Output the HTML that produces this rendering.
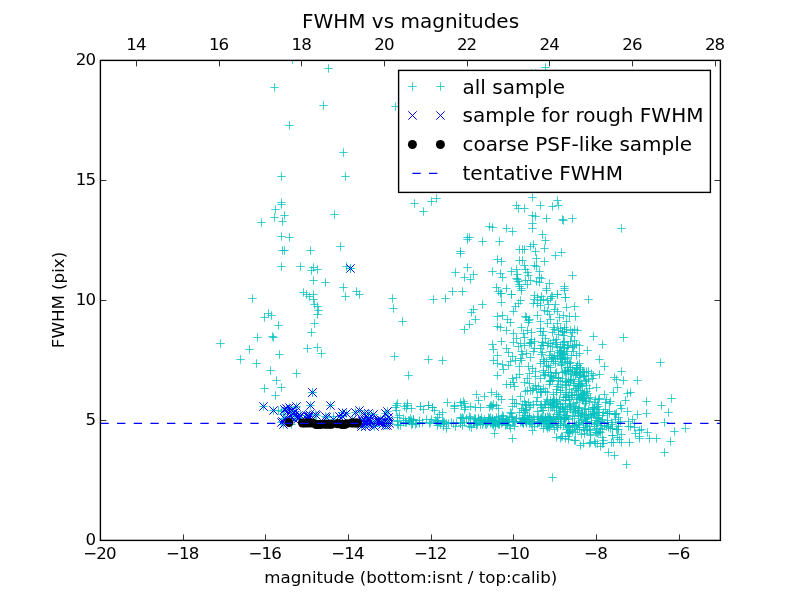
<!DOCTYPE html><html><head><meta charset="utf-8"><title>FWHM vs magnitudes</title><style>html,body{margin:0;padding:0;background:#fff}body{width:800px;height:600px;overflow:hidden}</style></head><body><svg width="800" height="600" viewBox="0 0 800 600" style="display:block;font-family:'DejaVu Sans','Liberation Sans',sans-serif">
<rect width="800" height="600" fill="#fff"/>
<defs><clipPath id="c"><rect x="100.4" y="60.4" width="620.0" height="480.0"/></clipPath></defs>
<g clip-path="url(#c)">
<path d="M288.3 59.5h8.4M292.5 55.3v8.4M324.3 68.5h8.4M328.5 64.3v8.4M270.3 87.5h8.4M274.5 83.3v8.4M319.3 105.5h8.4M323.5 101.3v8.4M285.3 125.5h8.4M289.5 121.3v8.4M339.3 152.5h8.4M343.5 148.3v8.4M277.3 176.5h8.4M281.5 172.3v8.4M341.3 176.5h8.4M345.5 172.3v8.4M277.3 202.5h8.4M281.5 198.3v8.4M277.3 204.5h8.4M281.5 200.3v8.4M271.3 209.5h8.4M275.5 205.3v8.4M280.3 215.5h8.4M284.5 211.3v8.4M270.3 217.5h8.4M274.5 213.3v8.4M278.3 221.5h8.4M282.5 217.3v8.4M257.3 222.5h8.4M261.5 218.3v8.4M330.3 214.5h8.4M334.5 210.3v8.4M277.3 236.5h8.4M281.5 232.3v8.4M285.3 237.5h8.4M289.5 233.3v8.4M278.3 250.5h8.4M282.5 246.3v8.4M280.3 250.5h8.4M284.5 246.3v8.4M306.3 250.5h8.4M310.5 246.3v8.4M336.3 246.5h8.4M340.5 242.3v8.4M277.3 266.5h8.4M281.5 262.3v8.4M296.3 266.5h8.4M300.5 262.3v8.4M309.3 267.5h8.4M313.5 263.3v8.4M307.3 270.5h8.4M311.5 266.3v8.4M313.3 269.5h8.4M317.5 265.3v8.4M342.3 266.5h8.4M346.5 262.3v8.4M346.3 268.5h8.4M350.5 264.3v8.4M309.3 280.5h8.4M313.5 276.3v8.4M321.3 282.5h8.4M325.5 278.3v8.4M339.3 287.5h8.4M343.5 283.3v8.4M352.3 291.5h8.4M356.5 287.3v8.4M299.3 292.5h8.4M303.5 288.3v8.4M302.3 294.5h8.4M306.5 290.3v8.4M309.3 294.5h8.4M313.5 290.3v8.4M305.3 296.5h8.4M309.5 292.3v8.4M341.3 296.5h8.4M345.5 292.3v8.4M248.3 298.5h8.4M252.5 294.3v8.4M355.3 294.5h8.4M359.5 290.3v8.4M309.3 299.5h8.4M313.5 295.3v8.4M310.3 304.5h8.4M314.5 300.3v8.4M313.3 306.5h8.4M317.5 302.3v8.4M314.3 310.5h8.4M318.5 306.3v8.4M313.3 314.5h8.4M317.5 310.3v8.4M264.3 313.5h8.4M268.5 309.3v8.4M267.3 315.5h8.4M271.5 311.3v8.4M260.3 317.5h8.4M264.5 313.3v8.4M274.3 325.5h8.4M278.5 321.3v8.4M310.3 323.5h8.4M314.5 319.3v8.4M307.3 332.5h8.4M311.5 328.3v8.4M253.3 337.5h8.4M257.5 333.3v8.4M268.3 336.5h8.4M272.5 332.3v8.4M269.3 337.5h8.4M273.5 333.3v8.4M216.3 343.5h8.4M220.5 339.3v8.4M245.3 349.5h8.4M249.5 345.3v8.4M303.3 348.5h8.4M307.5 344.3v8.4M313.3 347.5h8.4M317.5 343.3v8.4M317.3 353.5h8.4M321.5 349.3v8.4M275.3 354.5h8.4M279.5 350.3v8.4M236.3 359.5h8.4M240.5 355.3v8.4M252.3 363.5h8.4M256.5 359.3v8.4M266.3 370.5h8.4M270.5 366.3v8.4M292.3 373.5h8.4M296.5 369.3v8.4M272.3 380.5h8.4M276.5 376.3v8.4M260.3 388.5h8.4M264.5 384.3v8.4M277.3 387.5h8.4M281.5 383.3v8.4M271.3 395.5h8.4M275.5 391.3v8.4M391.3 106.5h8.4M395.5 102.3v8.4M541.3 67.5h8.4M545.5 63.3v8.4M527.3 73.5h8.4M531.5 69.3v8.4M531.3 73.5h8.4M535.5 69.3v8.4M410.3 203.5h8.4M414.5 199.3v8.4M419.3 211.5h8.4M423.5 207.3v8.4M427.3 201.5h8.4M431.5 197.3v8.4M432.3 198.5h8.4M436.5 194.3v8.4M512.3 205.5h8.4M516.5 201.3v8.4M514.3 208.5h8.4M518.5 204.3v8.4M485.3 226.5h8.4M489.5 222.3v8.4M488.3 227.5h8.4M492.5 223.3v8.4M502.3 228.5h8.4M506.5 224.3v8.4M508.3 231.5h8.4M512.5 227.3v8.4M463.3 237.5h8.4M467.5 233.3v8.4M465.3 237.5h8.4M469.5 233.3v8.4M463.3 239.5h8.4M467.5 235.3v8.4M478.3 241.5h8.4M482.5 237.3v8.4M495.3 241.5h8.4M499.5 237.3v8.4M456.3 251.5h8.4M460.5 247.3v8.4M456.3 253.5h8.4M460.5 249.3v8.4M515.3 249.5h8.4M519.5 245.3v8.4M493.3 259.5h8.4M497.5 255.3v8.4M497.3 261.5h8.4M501.5 257.3v8.4M515.3 260.5h8.4M519.5 256.3v8.4M463.3 267.5h8.4M467.5 263.3v8.4M451.3 272.5h8.4M455.5 268.3v8.4M469.3 274.5h8.4M473.5 270.3v8.4M460.3 277.5h8.4M464.5 273.3v8.4M466.3 279.5h8.4M470.5 275.3v8.4M488.3 271.5h8.4M492.5 267.3v8.4M496.3 273.5h8.4M500.5 269.3v8.4M498.3 277.5h8.4M502.5 273.3v8.4M507.3 271.5h8.4M511.5 267.3v8.4M512.3 269.5h8.4M516.5 265.3v8.4M513.3 274.5h8.4M517.5 270.3v8.4M512.3 278.5h8.4M516.5 274.3v8.4M514.3 281.5h8.4M518.5 277.3v8.4M515.3 286.5h8.4M519.5 282.3v8.4M448.3 291.5h8.4M452.5 287.3v8.4M458.3 291.5h8.4M462.5 287.3v8.4M492.3 287.5h8.4M496.5 283.3v8.4M502.3 288.5h8.4M506.5 284.3v8.4M494.3 291.5h8.4M498.5 287.3v8.4M496.3 293.5h8.4M500.5 289.3v8.4M507.3 294.5h8.4M511.5 290.3v8.4M388.3 298.5h8.4M392.5 294.3v8.4M429.3 299.5h8.4M433.5 295.3v8.4M441.3 298.5h8.4M445.5 294.3v8.4M389.3 308.5h8.4M393.5 304.3v8.4M398.3 321.5h8.4M402.5 317.3v8.4M478.3 304.5h8.4M482.5 300.3v8.4M469.3 309.5h8.4M473.5 305.3v8.4M467.3 312.5h8.4M471.5 308.3v8.4M471.3 319.5h8.4M475.5 315.3v8.4M465.3 324.5h8.4M469.5 320.3v8.4M460.3 329.5h8.4M464.5 325.3v8.4M390.3 356.5h8.4M394.5 352.3v8.4M424.3 359.5h8.4M428.5 355.3v8.4M438.3 360.5h8.4M442.5 356.3v8.4M404.3 375.5h8.4M408.5 371.3v8.4M493.3 316.5h8.4M497.5 312.3v8.4M493.3 326.5h8.4M497.5 322.3v8.4M488.3 344.5h8.4M492.5 340.3v8.4M489.3 349.5h8.4M493.5 345.3v8.4M504.3 352.5h8.4M508.5 348.3v8.4M493.3 355.5h8.4M497.5 351.3v8.4M508.3 356.5h8.4M512.5 352.3v8.4M489.3 360.5h8.4M493.5 356.3v8.4M493.3 363.5h8.4M497.5 359.3v8.4M498.3 364.5h8.4M502.5 360.3v8.4M506.3 361.5h8.4M510.5 357.3v8.4M511.3 360.5h8.4M515.5 356.3v8.4M499.3 369.5h8.4M503.5 365.3v8.4M504.3 365.5h8.4M508.5 361.3v8.4M515.3 366.5h8.4M519.5 362.3v8.4M493.3 375.5h8.4M497.5 371.3v8.4M508.3 378.5h8.4M512.5 374.3v8.4M512.3 377.5h8.4M516.5 373.3v8.4M515.3 374.5h8.4M519.5 370.3v8.4M502.3 384.5h8.4M506.5 380.3v8.4M506.3 384.5h8.4M510.5 380.3v8.4M509.3 382.5h8.4M513.5 378.3v8.4M510.3 386.5h8.4M514.5 382.3v8.4M472.3 394.5h8.4M476.5 390.3v8.4M480.3 396.5h8.4M484.5 392.3v8.4M487.3 392.5h8.4M491.5 388.3v8.4M492.3 394.5h8.4M496.5 390.3v8.4M494.3 396.5h8.4M498.5 392.3v8.4M497.3 399.5h8.4M501.5 395.3v8.4M508.3 399.5h8.4M512.5 395.3v8.4M510.3 403.5h8.4M514.5 399.3v8.4M392.3 405.5h8.4M396.5 401.3v8.4M403.3 405.5h8.4M407.5 401.3v8.4M416.3 406.5h8.4M420.5 402.3v8.4M424.3 405.5h8.4M428.5 401.3v8.4M428.3 407.5h8.4M432.5 403.3v8.4M450.3 406.5h8.4M454.5 402.3v8.4M466.3 406.5h8.4M470.5 402.3v8.4M471.3 407.5h8.4M475.5 403.3v8.4M476.3 407.5h8.4M480.5 403.3v8.4M488.3 406.5h8.4M492.5 402.3v8.4M492.3 405.5h8.4M496.5 401.3v8.4M494.3 408.5h8.4M498.5 404.3v8.4M508.3 406.5h8.4M512.5 402.3v8.4M393.3 403.5h8.4M397.5 399.3v8.4M391.3 407.5h8.4M395.5 403.3v8.4M392.3 410.5h8.4M396.5 406.3v8.4M403.3 403.5h8.4M407.5 399.3v8.4M400.3 406.5h8.4M404.5 402.3v8.4M402.3 408.5h8.4M406.5 404.3v8.4M407.3 408.5h8.4M411.5 404.3v8.4M416.3 406.5h8.4M420.5 402.3v8.4M419.3 409.5h8.4M423.5 405.3v8.4M424.3 405.5h8.4M428.5 401.3v8.4M428.3 407.5h8.4M432.5 403.3v8.4M430.3 410.5h8.4M434.5 406.3v8.4M443.3 402.5h8.4M447.5 398.3v8.4M450.3 405.5h8.4M454.5 401.3v8.4M450.3 408.5h8.4M454.5 404.3v8.4M438.3 412.5h8.4M442.5 408.3v8.4M435.3 414.5h8.4M439.5 410.3v8.4M395.3 415.5h8.4M399.5 411.3v8.4M399.3 418.5h8.4M403.5 414.3v8.4M442.3 428.5h8.4M446.5 424.3v8.4M451.3 426.5h8.4M455.5 422.3v8.4M528.3 197.5h8.4M532.5 193.3v8.4M553.3 200.5h8.4M557.5 196.3v8.4M520.3 208.5h8.4M524.5 204.3v8.4M536.3 205.5h8.4M540.5 201.3v8.4M548.3 206.5h8.4M552.5 202.3v8.4M554.3 205.5h8.4M558.5 201.3v8.4M528.3 215.5h8.4M532.5 211.3v8.4M531.3 216.5h8.4M535.5 212.3v8.4M542.3 218.5h8.4M546.5 214.3v8.4M558.3 219.5h8.4M562.5 215.3v8.4M559.3 220.5h8.4M563.5 216.3v8.4M568.3 218.5h8.4M572.5 214.3v8.4M528.3 223.5h8.4M532.5 219.3v8.4M528.3 228.5h8.4M532.5 224.3v8.4M617.3 228.5h8.4M621.5 224.3v8.4M538.3 234.5h8.4M542.5 230.3v8.4M541.3 240.5h8.4M545.5 236.3v8.4M529.3 244.5h8.4M533.5 240.3v8.4M526.3 246.5h8.4M530.5 242.3v8.4M540.3 248.5h8.4M544.5 244.3v8.4M518.3 249.5h8.4M522.5 245.3v8.4M520.3 249.5h8.4M524.5 245.3v8.4M531.3 251.5h8.4M535.5 247.3v8.4M557.3 252.5h8.4M561.5 248.3v8.4M551.3 255.5h8.4M555.5 251.3v8.4M532.3 258.5h8.4M536.5 254.3v8.4M518.3 260.5h8.4M522.5 256.3v8.4M540.3 261.5h8.4M544.5 257.3v8.4M520.3 265.5h8.4M524.5 261.3v8.4M530.3 265.5h8.4M534.5 261.3v8.4M532.3 266.5h8.4M536.5 262.3v8.4M521.3 269.5h8.4M525.5 265.3v8.4M535.3 271.5h8.4M539.5 267.3v8.4M523.3 272.5h8.4M527.5 268.3v8.4M524.3 275.5h8.4M528.5 271.3v8.4M568.3 275.5h8.4M572.5 271.3v8.4M535.3 277.5h8.4M539.5 273.3v8.4M537.3 278.5h8.4M541.5 274.3v8.4M513.3 279.5h8.4M517.5 275.3v8.4M521.3 280.5h8.4M525.5 276.3v8.4M526.3 280.5h8.4M530.5 276.3v8.4M532.3 281.5h8.4M536.5 277.3v8.4M535.3 282.5h8.4M539.5 278.3v8.4M545.3 283.5h8.4M549.5 279.3v8.4M515.3 284.5h8.4M519.5 280.3v8.4M523.3 284.5h8.4M527.5 280.3v8.4M560.3 286.5h8.4M564.5 282.3v8.4M560.3 288.5h8.4M564.5 284.3v8.4M517.3 288.5h8.4M521.5 284.3v8.4M542.3 288.5h8.4M546.5 284.3v8.4M553.3 294.5h8.4M557.5 290.3v8.4M530.3 295.5h8.4M534.5 291.3v8.4M537.3 296.5h8.4M541.5 292.3v8.4M547.3 296.5h8.4M551.5 292.3v8.4M561.3 297.5h8.4M565.5 293.3v8.4M584.3 299.5h8.4M588.5 295.3v8.4M497.3 293.5h8.4M501.5 289.3v8.4M507.3 294.5h8.4M511.5 290.3v8.4M517.3 290.5h8.4M521.5 286.3v8.4M542.3 290.5h8.4M546.5 286.3v8.4M548.3 296.5h8.4M552.5 292.3v8.4M553.3 294.5h8.4M557.5 290.3v8.4M561.3 297.5h8.4M565.5 293.3v8.4M560.3 290.5h8.4M564.5 286.3v8.4M497.3 302.5h8.4M501.5 298.3v8.4M516.3 300.5h8.4M520.5 296.3v8.4M514.3 303.5h8.4M518.5 299.3v8.4M511.3 306.5h8.4M515.5 302.3v8.4M509.3 311.5h8.4M513.5 307.3v8.4M530.3 299.5h8.4M534.5 295.3v8.4M533.3 297.5h8.4M537.5 293.3v8.4M536.3 300.5h8.4M540.5 296.3v8.4M539.3 299.5h8.4M543.5 295.3v8.4M543.3 300.5h8.4M547.5 296.3v8.4M546.3 298.5h8.4M550.5 294.3v8.4M529.3 303.5h8.4M533.5 299.3v8.4M533.3 303.5h8.4M537.5 299.3v8.4M536.3 305.5h8.4M540.5 301.3v8.4M544.3 304.5h8.4M548.5 300.3v8.4M551.3 304.5h8.4M555.5 300.3v8.4M562.3 307.5h8.4M566.5 303.3v8.4M570.3 306.5h8.4M574.5 302.3v8.4M540.3 310.5h8.4M544.5 306.3v8.4M543.3 311.5h8.4M547.5 307.3v8.4M550.3 309.5h8.4M554.5 305.3v8.4M553.3 311.5h8.4M557.5 307.3v8.4M498.3 315.5h8.4M502.5 311.3v8.4M503.3 319.5h8.4M507.5 315.3v8.4M506.3 322.5h8.4M510.5 318.3v8.4M521.3 316.5h8.4M525.5 312.3v8.4M525.3 319.5h8.4M529.5 315.3v8.4M524.3 322.5h8.4M528.5 318.3v8.4M533.3 315.5h8.4M537.5 311.3v8.4M536.3 321.5h8.4M540.5 317.3v8.4M545.3 314.5h8.4M549.5 310.3v8.4M546.3 319.5h8.4M550.5 315.3v8.4M543.3 323.5h8.4M547.5 319.3v8.4M559.3 315.5h8.4M563.5 311.3v8.4M555.3 317.5h8.4M559.5 313.3v8.4M565.3 316.5h8.4M569.5 312.3v8.4M571.3 316.5h8.4M575.5 312.3v8.4M562.3 321.5h8.4M566.5 317.3v8.4M553.3 323.5h8.4M557.5 319.3v8.4M502.3 330.5h8.4M506.5 326.3v8.4M496.3 327.5h8.4M500.5 323.3v8.4M509.3 333.5h8.4M513.5 329.3v8.4M517.3 327.5h8.4M521.5 323.3v8.4M519.3 333.5h8.4M523.5 329.3v8.4M523.3 330.5h8.4M527.5 326.3v8.4M527.3 332.5h8.4M531.5 328.3v8.4M536.3 328.5h8.4M540.5 324.3v8.4M539.3 331.5h8.4M543.5 327.3v8.4M550.3 329.5h8.4M554.5 325.3v8.4M556.3 328.5h8.4M560.5 324.3v8.4M560.3 327.5h8.4M564.5 323.3v8.4M558.3 331.5h8.4M562.5 327.3v8.4M562.3 329.5h8.4M566.5 325.3v8.4M570.3 329.5h8.4M574.5 325.3v8.4M548.3 332.5h8.4M552.5 328.3v8.4M554.3 334.5h8.4M558.5 330.3v8.4M559.3 335.5h8.4M563.5 331.3v8.4M538.3 335.5h8.4M542.5 331.3v8.4M541.3 338.5h8.4M545.5 334.3v8.4M497.3 341.5h8.4M501.5 337.3v8.4M509.3 342.5h8.4M513.5 338.3v8.4M512.3 338.5h8.4M516.5 334.3v8.4M516.3 343.5h8.4M520.5 339.3v8.4M514.3 346.5h8.4M518.5 342.3v8.4M502.3 348.5h8.4M506.5 344.3v8.4M527.3 339.5h8.4M531.5 335.3v8.4M530.3 341.5h8.4M534.5 337.3v8.4M538.3 342.5h8.4M542.5 338.3v8.4M543.3 345.5h8.4M547.5 341.3v8.4M548.3 346.5h8.4M552.5 342.3v8.4M552.3 344.5h8.4M556.5 340.3v8.4M556.3 346.5h8.4M560.5 342.3v8.4M559.3 342.5h8.4M563.5 338.3v8.4M563.3 345.5h8.4M567.5 341.3v8.4M566.3 341.5h8.4M570.5 337.3v8.4M570.3 340.5h8.4M574.5 336.3v8.4M572.3 344.5h8.4M576.5 340.3v8.4M560.3 348.5h8.4M564.5 344.3v8.4M536.3 348.5h8.4M540.5 344.3v8.4M589.3 336.5h8.4M593.5 332.3v8.4M619.3 337.5h8.4M623.5 333.3v8.4M598.3 344.5h8.4M602.5 340.3v8.4M595.3 359.5h8.4M599.5 355.3v8.4M600.3 366.5h8.4M604.5 362.3v8.4M617.3 371.5h8.4M621.5 367.3v8.4M656.3 362.5h8.4M660.5 358.3v8.4M610.3 377.5h8.4M614.5 373.3v8.4M612.3 379.5h8.4M616.5 375.3v8.4M619.3 380.5h8.4M623.5 376.3v8.4M633.3 380.5h8.4M637.5 376.3v8.4M613.3 387.5h8.4M617.5 383.3v8.4M626.3 392.5h8.4M630.5 388.3v8.4M623.3 393.5h8.4M627.5 389.3v8.4M642.3 401.5h8.4M646.5 397.3v8.4M621.3 400.5h8.4M625.5 396.3v8.4M616.3 405.5h8.4M620.5 401.3v8.4M595.3 374.5h8.4M599.5 370.3v8.4M667.3 398.5h8.4M671.5 394.3v8.4M657.3 405.5h8.4M661.5 401.3v8.4M664.3 412.5h8.4M668.5 408.3v8.4M642.3 413.5h8.4M646.5 409.3v8.4M633.3 414.5h8.4M637.5 410.3v8.4M623.3 411.5h8.4M627.5 407.3v8.4M617.3 408.5h8.4M621.5 404.3v8.4M660.3 422.5h8.4M664.5 418.3v8.4M681.3 428.5h8.4M685.5 424.3v8.4M670.3 431.5h8.4M674.5 427.3v8.4M643.3 432.5h8.4M647.5 428.3v8.4M635.3 430.5h8.4M639.5 426.3v8.4M635.3 436.5h8.4M639.5 432.3v8.4M645.3 438.5h8.4M649.5 434.3v8.4M652.3 438.5h8.4M656.5 434.3v8.4M666.3 441.5h8.4M670.5 437.3v8.4M625.3 442.5h8.4M629.5 438.3v8.4M660.3 452.5h8.4M664.5 448.3v8.4M604.3 452.5h8.4M608.5 448.3v8.4M610.3 455.5h8.4M614.5 451.3v8.4M622.3 464.5h8.4M626.5 460.3v8.4M617.3 434.5h8.4M621.5 430.3v8.4M615.3 439.5h8.4M619.5 435.3v8.4M617.3 442.5h8.4M621.5 438.3v8.4M628.3 419.5h8.4M632.5 415.3v8.4M630.3 423.5h8.4M634.5 419.3v8.4M626.3 426.5h8.4M630.5 422.3v8.4M637.3 429.5h8.4M641.5 425.3v8.4M548.3 477.5h8.4M552.5 473.3v8.4M508.3 438.5h8.4M512.5 434.3v8.4M490.3 433.5h8.4M494.5 429.3v8.4M552.3 437.5h8.4M556.5 433.3v8.4M561.3 438.5h8.4M565.5 434.3v8.4M576.3 445.5h8.4M580.5 441.3v8.4M596.3 446.5h8.4M600.5 442.3v8.4M522.3 353.5h8.4M526.5 349.3v8.4M529.3 351.5h8.4M533.5 347.3v8.4M526.3 357.5h8.4M530.5 353.3v8.4M517.3 360.5h8.4M521.5 356.3v8.4M516.3 358.5h8.4M520.5 354.3v8.4M517.3 351.5h8.4M521.5 347.3v8.4M524.3 366.5h8.4M528.5 362.3v8.4M518.3 354.5h8.4M522.5 350.3v8.4M528.3 368.5h8.4M532.5 364.3v8.4M547.3 357.5h8.4M551.5 353.3v8.4M555.3 350.5h8.4M559.5 346.3v8.4M553.3 355.5h8.4M557.5 351.3v8.4M538.3 352.5h8.4M542.5 348.3v8.4M542.3 366.5h8.4M546.5 362.3v8.4M539.3 361.5h8.4M543.5 357.3v8.4M548.3 357.5h8.4M552.5 353.3v8.4M546.3 351.5h8.4M550.5 347.3v8.4M537.3 354.5h8.4M541.5 350.3v8.4M549.3 358.5h8.4M553.5 354.3v8.4M542.3 361.5h8.4M546.5 357.3v8.4M545.3 355.5h8.4M549.5 351.3v8.4M551.3 363.5h8.4M555.5 359.3v8.4M540.3 361.5h8.4M544.5 357.3v8.4M546.3 367.5h8.4M550.5 363.3v8.4M550.3 355.5h8.4M554.5 351.3v8.4M555.3 352.5h8.4M559.5 348.3v8.4M544.3 365.5h8.4M548.5 361.3v8.4M539.3 359.5h8.4M543.5 355.3v8.4M536.3 363.5h8.4M540.5 359.3v8.4M551.3 361.5h8.4M555.5 357.3v8.4M553.3 356.5h8.4M557.5 352.3v8.4M549.3 361.5h8.4M553.5 357.3v8.4M547.3 359.5h8.4M551.5 355.3v8.4M572.3 368.5h8.4M576.5 364.3v8.4M565.3 363.5h8.4M569.5 359.3v8.4M557.3 364.5h8.4M561.5 360.3v8.4M568.3 369.5h8.4M572.5 365.3v8.4M572.3 355.5h8.4M576.5 351.3v8.4M563.3 363.5h8.4M567.5 359.3v8.4M556.3 359.5h8.4M560.5 355.3v8.4M559.3 352.5h8.4M563.5 348.3v8.4M557.3 365.5h8.4M561.5 361.3v8.4M558.3 354.5h8.4M562.5 350.3v8.4M563.3 367.5h8.4M567.5 363.3v8.4M557.3 358.5h8.4M561.5 354.3v8.4M566.3 367.5h8.4M570.5 363.3v8.4M572.3 367.5h8.4M576.5 363.3v8.4M561.3 358.5h8.4M565.5 354.3v8.4M563.3 367.5h8.4M567.5 363.3v8.4M575.3 353.5h8.4M579.5 349.3v8.4M559.3 354.5h8.4M563.5 350.3v8.4M560.3 359.5h8.4M564.5 355.3v8.4M567.3 355.5h8.4M571.5 351.3v8.4M556.3 358.5h8.4M560.5 354.3v8.4M563.3 361.5h8.4M567.5 357.3v8.4M575.3 363.5h8.4M579.5 359.3v8.4M566.3 362.5h8.4M570.5 358.3v8.4M569.3 351.5h8.4M573.5 347.3v8.4M573.3 365.5h8.4M577.5 361.3v8.4M573.3 365.5h8.4M577.5 361.3v8.4M563.3 357.5h8.4M567.5 353.3v8.4M558.3 362.5h8.4M562.5 358.3v8.4M557.3 351.5h8.4M561.5 347.3v8.4M560.3 353.5h8.4M564.5 349.3v8.4M562.3 351.5h8.4M566.5 347.3v8.4M556.3 353.5h8.4M560.5 349.3v8.4M558.3 357.5h8.4M562.5 353.3v8.4M576.3 367.5h8.4M580.5 363.3v8.4M576.3 369.5h8.4M580.5 365.3v8.4M583.3 350.5h8.4M587.5 346.3v8.4M520.3 382.5h8.4M524.5 378.3v8.4M534.3 386.5h8.4M538.5 382.3v8.4M525.3 383.5h8.4M529.5 379.3v8.4M531.3 371.5h8.4M535.5 367.3v8.4M529.3 388.5h8.4M533.5 384.3v8.4M531.3 385.5h8.4M535.5 381.3v8.4M525.3 373.5h8.4M529.5 369.3v8.4M531.3 376.5h8.4M535.5 372.3v8.4M532.3 389.5h8.4M536.5 385.3v8.4M523.3 378.5h8.4M527.5 374.3v8.4M554.3 384.5h8.4M558.5 380.3v8.4M539.3 372.5h8.4M543.5 368.3v8.4M539.3 388.5h8.4M543.5 384.3v8.4M552.3 372.5h8.4M556.5 368.3v8.4M552.3 389.5h8.4M556.5 385.3v8.4M549.3 377.5h8.4M553.5 373.3v8.4M546.3 372.5h8.4M550.5 368.3v8.4M536.3 389.5h8.4M540.5 385.3v8.4M548.3 380.5h8.4M552.5 376.3v8.4M554.3 378.5h8.4M558.5 374.3v8.4M553.3 386.5h8.4M557.5 382.3v8.4M540.3 375.5h8.4M544.5 371.3v8.4M541.3 374.5h8.4M545.5 370.3v8.4M547.3 375.5h8.4M551.5 371.3v8.4M544.3 372.5h8.4M548.5 368.3v8.4M554.3 377.5h8.4M558.5 373.3v8.4M545.3 381.5h8.4M549.5 377.3v8.4M554.3 378.5h8.4M558.5 374.3v8.4M554.3 380.5h8.4M558.5 376.3v8.4M546.3 380.5h8.4M550.5 376.3v8.4M536.3 378.5h8.4M540.5 374.3v8.4M539.3 370.5h8.4M543.5 366.3v8.4M551.3 373.5h8.4M555.5 369.3v8.4M545.3 384.5h8.4M549.5 380.3v8.4M547.3 376.5h8.4M551.5 372.3v8.4M546.3 381.5h8.4M550.5 377.3v8.4M571.3 372.5h8.4M575.5 368.3v8.4M567.3 374.5h8.4M571.5 370.3v8.4M561.3 385.5h8.4M565.5 381.3v8.4M566.3 381.5h8.4M570.5 377.3v8.4M571.3 388.5h8.4M575.5 384.3v8.4M564.3 382.5h8.4M568.5 378.3v8.4M566.3 380.5h8.4M570.5 376.3v8.4M569.3 379.5h8.4M573.5 375.3v8.4M566.3 379.5h8.4M570.5 375.3v8.4M574.3 383.5h8.4M578.5 379.3v8.4M573.3 388.5h8.4M577.5 384.3v8.4M561.3 381.5h8.4M565.5 377.3v8.4M574.3 386.5h8.4M578.5 382.3v8.4M558.3 372.5h8.4M562.5 368.3v8.4M564.3 371.5h8.4M568.5 367.3v8.4M560.3 371.5h8.4M564.5 367.3v8.4M569.3 385.5h8.4M573.5 381.3v8.4M573.3 373.5h8.4M577.5 369.3v8.4M570.3 383.5h8.4M574.5 379.3v8.4M558.3 387.5h8.4M562.5 383.3v8.4M575.3 374.5h8.4M579.5 370.3v8.4M575.3 377.5h8.4M579.5 373.3v8.4M565.3 389.5h8.4M569.5 385.3v8.4M572.3 373.5h8.4M576.5 369.3v8.4M564.3 380.5h8.4M568.5 376.3v8.4M562.3 373.5h8.4M566.5 369.3v8.4M562.3 384.5h8.4M566.5 380.3v8.4M556.3 381.5h8.4M560.5 377.3v8.4M564.3 370.5h8.4M568.5 366.3v8.4M562.3 382.5h8.4M566.5 378.3v8.4M566.3 371.5h8.4M570.5 367.3v8.4M575.3 385.5h8.4M579.5 381.3v8.4M575.3 372.5h8.4M579.5 368.3v8.4M561.3 370.5h8.4M565.5 366.3v8.4M571.3 375.5h8.4M575.5 371.3v8.4M558.3 378.5h8.4M562.5 374.3v8.4M574.3 386.5h8.4M578.5 382.3v8.4M561.3 372.5h8.4M565.5 368.3v8.4M574.3 381.5h8.4M578.5 377.3v8.4M570.3 371.5h8.4M574.5 367.3v8.4M577.3 383.5h8.4M581.5 379.3v8.4M584.3 371.5h8.4M588.5 367.3v8.4M582.3 381.5h8.4M586.5 377.3v8.4M580.3 372.5h8.4M584.5 368.3v8.4M579.3 371.5h8.4M583.5 367.3v8.4M580.3 376.5h8.4M584.5 372.3v8.4M582.3 385.5h8.4M586.5 381.3v8.4M581.3 380.5h8.4M585.5 376.3v8.4M579.3 376.5h8.4M583.5 372.3v8.4M576.3 375.5h8.4M580.5 371.3v8.4M576.3 384.5h8.4M580.5 380.3v8.4M587.3 373.5h8.4M591.5 369.3v8.4M585.3 388.5h8.4M589.5 384.3v8.4M578.3 386.5h8.4M582.5 382.3v8.4M584.3 379.5h8.4M588.5 375.3v8.4M588.3 378.5h8.4M592.5 374.3v8.4M582.3 371.5h8.4M586.5 367.3v8.4M578.3 371.5h8.4M582.5 367.3v8.4M592.3 387.5h8.4M596.5 383.3v8.4M589.3 375.5h8.4M593.5 371.3v8.4M580.3 375.5h8.4M584.5 371.3v8.4M526.3 390.5h8.4M530.5 386.3v8.4M521.3 391.5h8.4M525.5 387.3v8.4M523.3 390.5h8.4M527.5 386.3v8.4M516.3 396.5h8.4M520.5 392.3v8.4M520.3 401.5h8.4M524.5 397.3v8.4M526.3 405.5h8.4M530.5 401.3v8.4M529.3 404.5h8.4M533.5 400.3v8.4M533.3 397.5h8.4M537.5 393.3v8.4M522.3 409.5h8.4M526.5 405.3v8.4M518.3 404.5h8.4M522.5 400.3v8.4M528.3 390.5h8.4M532.5 386.3v8.4M552.3 407.5h8.4M556.5 403.3v8.4M548.3 404.5h8.4M552.5 400.3v8.4M552.3 392.5h8.4M556.5 388.3v8.4M546.3 400.5h8.4M550.5 396.3v8.4M552.3 406.5h8.4M556.5 402.3v8.4M552.3 401.5h8.4M556.5 397.3v8.4M553.3 403.5h8.4M557.5 399.3v8.4M549.3 394.5h8.4M553.5 390.3v8.4M536.3 392.5h8.4M540.5 388.3v8.4M543.3 392.5h8.4M547.5 388.3v8.4M552.3 401.5h8.4M556.5 397.3v8.4M548.3 402.5h8.4M552.5 398.3v8.4M549.3 399.5h8.4M553.5 395.3v8.4M536.3 405.5h8.4M540.5 401.3v8.4M550.3 400.5h8.4M554.5 396.3v8.4M546.3 403.5h8.4M550.5 399.3v8.4M537.3 404.5h8.4M541.5 400.3v8.4M541.3 391.5h8.4M545.5 387.3v8.4M541.3 404.5h8.4M545.5 400.3v8.4M540.3 404.5h8.4M544.5 400.3v8.4M555.3 399.5h8.4M559.5 395.3v8.4M543.3 399.5h8.4M547.5 395.3v8.4M549.3 405.5h8.4M553.5 401.3v8.4M548.3 402.5h8.4M552.5 398.3v8.4M537.3 392.5h8.4M541.5 388.3v8.4M541.3 404.5h8.4M545.5 400.3v8.4M542.3 401.5h8.4M546.5 397.3v8.4M536.3 391.5h8.4M540.5 387.3v8.4M561.3 403.5h8.4M565.5 399.3v8.4M569.3 403.5h8.4M573.5 399.3v8.4M561.3 400.5h8.4M565.5 396.3v8.4M565.3 399.5h8.4M569.5 395.3v8.4M558.3 407.5h8.4M562.5 403.3v8.4M559.3 409.5h8.4M563.5 405.3v8.4M574.3 390.5h8.4M578.5 386.3v8.4M565.3 406.5h8.4M569.5 402.3v8.4M575.3 398.5h8.4M579.5 394.3v8.4M561.3 394.5h8.4M565.5 390.3v8.4M574.3 394.5h8.4M578.5 390.3v8.4M567.3 392.5h8.4M571.5 388.3v8.4M566.3 409.5h8.4M570.5 405.3v8.4M558.3 406.5h8.4M562.5 402.3v8.4M566.3 407.5h8.4M570.5 403.3v8.4M570.3 394.5h8.4M574.5 390.3v8.4M573.3 399.5h8.4M577.5 395.3v8.4M556.3 390.5h8.4M560.5 386.3v8.4M565.3 399.5h8.4M569.5 395.3v8.4M562.3 392.5h8.4M566.5 388.3v8.4M562.3 396.5h8.4M566.5 392.3v8.4M572.3 390.5h8.4M576.5 386.3v8.4M571.3 406.5h8.4M575.5 402.3v8.4M558.3 408.5h8.4M562.5 404.3v8.4M570.3 408.5h8.4M574.5 404.3v8.4M561.3 397.5h8.4M565.5 393.3v8.4M563.3 409.5h8.4M567.5 405.3v8.4M567.3 397.5h8.4M571.5 393.3v8.4M564.3 395.5h8.4M568.5 391.3v8.4M556.3 392.5h8.4M560.5 388.3v8.4M572.3 395.5h8.4M576.5 391.3v8.4M574.3 394.5h8.4M578.5 390.3v8.4M561.3 400.5h8.4M565.5 396.3v8.4M559.3 397.5h8.4M563.5 393.3v8.4M575.3 407.5h8.4M579.5 403.3v8.4M572.3 402.5h8.4M576.5 398.3v8.4M574.3 408.5h8.4M578.5 404.3v8.4M566.3 404.5h8.4M570.5 400.3v8.4M556.3 404.5h8.4M560.5 400.3v8.4M565.3 405.5h8.4M569.5 401.3v8.4M568.3 395.5h8.4M572.5 391.3v8.4M556.3 408.5h8.4M560.5 404.3v8.4M578.3 399.5h8.4M582.5 395.3v8.4M582.3 395.5h8.4M586.5 391.3v8.4M590.3 409.5h8.4M594.5 405.3v8.4M581.3 403.5h8.4M585.5 399.3v8.4M582.3 401.5h8.4M586.5 397.3v8.4M583.3 393.5h8.4M587.5 389.3v8.4M579.3 394.5h8.4M583.5 390.3v8.4M594.3 399.5h8.4M598.5 395.3v8.4M580.3 408.5h8.4M584.5 404.3v8.4M595.3 398.5h8.4M599.5 394.3v8.4M578.3 393.5h8.4M582.5 389.3v8.4M577.3 396.5h8.4M581.5 392.3v8.4M577.3 394.5h8.4M581.5 390.3v8.4M581.3 401.5h8.4M585.5 397.3v8.4M593.3 404.5h8.4M597.5 400.3v8.4M584.3 398.5h8.4M588.5 394.3v8.4M586.3 397.5h8.4M590.5 393.3v8.4M582.3 391.5h8.4M586.5 387.3v8.4M581.3 409.5h8.4M585.5 405.3v8.4M578.3 400.5h8.4M582.5 396.3v8.4M588.3 407.5h8.4M592.5 403.3v8.4M580.3 395.5h8.4M584.5 391.3v8.4M580.3 397.5h8.4M584.5 393.3v8.4M584.3 409.5h8.4M588.5 405.3v8.4M592.3 407.5h8.4M596.5 403.3v8.4M576.3 390.5h8.4M580.5 386.3v8.4M590.3 407.5h8.4M594.5 403.3v8.4M585.3 401.5h8.4M589.5 397.3v8.4M576.3 397.5h8.4M580.5 393.3v8.4M594.3 406.5h8.4M598.5 402.3v8.4M593.3 409.5h8.4M597.5 405.3v8.4M580.3 392.5h8.4M584.5 388.3v8.4M579.3 400.5h8.4M583.5 396.3v8.4M589.3 408.5h8.4M593.5 404.3v8.4M590.3 402.5h8.4M594.5 398.3v8.4M591.3 399.5h8.4M595.5 395.3v8.4M601.3 402.5h8.4M605.5 398.3v8.4M609.3 392.5h8.4M613.5 388.3v8.4M606.3 401.5h8.4M610.5 397.3v8.4M602.3 399.5h8.4M606.5 395.3v8.4M600.3 394.5h8.4M604.5 390.3v8.4M605.3 403.5h8.4M609.5 399.3v8.4M601.3 409.5h8.4M605.5 405.3v8.4M537.3 417.5h8.4M541.5 413.3v8.4M553.3 427.5h8.4M557.5 423.3v8.4M550.3 429.5h8.4M554.5 425.3v8.4M554.3 416.5h8.4M558.5 412.3v8.4M539.3 428.5h8.4M543.5 424.3v8.4M550.3 410.5h8.4M554.5 406.3v8.4M549.3 417.5h8.4M553.5 413.3v8.4M543.3 416.5h8.4M547.5 412.3v8.4M539.3 410.5h8.4M543.5 406.3v8.4M541.3 417.5h8.4M545.5 413.3v8.4M555.3 412.5h8.4M559.5 408.3v8.4M555.3 414.5h8.4M559.5 410.3v8.4M543.3 426.5h8.4M547.5 422.3v8.4M552.3 418.5h8.4M556.5 414.3v8.4M536.3 419.5h8.4M540.5 415.3v8.4M543.3 428.5h8.4M547.5 424.3v8.4M559.3 417.5h8.4M563.5 413.3v8.4M573.3 410.5h8.4M577.5 406.3v8.4M564.3 426.5h8.4M568.5 422.3v8.4M571.3 410.5h8.4M575.5 406.3v8.4M556.3 411.5h8.4M560.5 407.3v8.4M574.3 415.5h8.4M578.5 411.3v8.4M570.3 427.5h8.4M574.5 423.3v8.4M562.3 415.5h8.4M566.5 411.3v8.4M575.3 422.5h8.4M579.5 418.3v8.4M561.3 424.5h8.4M565.5 420.3v8.4M562.3 415.5h8.4M566.5 411.3v8.4M556.3 425.5h8.4M560.5 421.3v8.4M574.3 422.5h8.4M578.5 418.3v8.4M574.3 410.5h8.4M578.5 406.3v8.4M560.3 419.5h8.4M564.5 415.3v8.4M575.3 429.5h8.4M579.5 425.3v8.4M563.3 415.5h8.4M567.5 411.3v8.4M564.3 419.5h8.4M568.5 415.3v8.4M574.3 413.5h8.4M578.5 409.3v8.4M572.3 424.5h8.4M576.5 420.3v8.4M572.3 425.5h8.4M576.5 421.3v8.4M568.3 416.5h8.4M572.5 412.3v8.4M562.3 417.5h8.4M566.5 413.3v8.4M571.3 411.5h8.4M575.5 407.3v8.4M559.3 425.5h8.4M563.5 421.3v8.4M560.3 411.5h8.4M564.5 407.3v8.4M556.3 421.5h8.4M560.5 417.3v8.4M562.3 429.5h8.4M566.5 425.3v8.4M573.3 429.5h8.4M577.5 425.3v8.4M561.3 411.5h8.4M565.5 407.3v8.4M557.3 419.5h8.4M561.5 415.3v8.4M570.3 418.5h8.4M574.5 414.3v8.4M560.3 418.5h8.4M564.5 414.3v8.4M568.3 423.5h8.4M572.5 419.3v8.4M570.3 426.5h8.4M574.5 422.3v8.4M569.3 412.5h8.4M573.5 408.3v8.4M592.3 415.5h8.4M596.5 411.3v8.4M587.3 417.5h8.4M591.5 413.3v8.4M590.3 413.5h8.4M594.5 409.3v8.4M580.3 414.5h8.4M584.5 410.3v8.4M579.3 427.5h8.4M583.5 423.3v8.4M587.3 416.5h8.4M591.5 412.3v8.4M583.3 429.5h8.4M587.5 425.3v8.4M586.3 414.5h8.4M590.5 410.3v8.4M592.3 423.5h8.4M596.5 419.3v8.4M595.3 412.5h8.4M599.5 408.3v8.4M585.3 426.5h8.4M589.5 422.3v8.4M592.3 428.5h8.4M596.5 424.3v8.4M576.3 415.5h8.4M580.5 411.3v8.4M578.3 413.5h8.4M582.5 409.3v8.4M595.3 421.5h8.4M599.5 417.3v8.4M594.3 417.5h8.4M598.5 413.3v8.4M593.3 418.5h8.4M597.5 414.3v8.4M581.3 425.5h8.4M585.5 421.3v8.4M594.3 412.5h8.4M598.5 408.3v8.4M587.3 422.5h8.4M591.5 418.3v8.4M580.3 417.5h8.4M584.5 413.3v8.4M578.3 414.5h8.4M582.5 410.3v8.4M581.3 421.5h8.4M585.5 417.3v8.4M589.3 414.5h8.4M593.5 410.3v8.4M576.3 416.5h8.4M580.5 412.3v8.4M589.3 413.5h8.4M593.5 409.3v8.4M582.3 414.5h8.4M586.5 410.3v8.4M591.3 420.5h8.4M595.5 416.3v8.4M577.3 412.5h8.4M581.5 408.3v8.4M583.3 421.5h8.4M587.5 417.3v8.4M588.3 411.5h8.4M592.5 407.3v8.4M579.3 423.5h8.4M583.5 419.3v8.4M584.3 415.5h8.4M588.5 411.3v8.4M582.3 429.5h8.4M586.5 425.3v8.4M582.3 421.5h8.4M586.5 417.3v8.4M583.3 418.5h8.4M587.5 414.3v8.4M613.3 429.5h8.4M617.5 425.3v8.4M603.3 413.5h8.4M607.5 409.3v8.4M610.3 414.5h8.4M614.5 410.3v8.4M596.3 428.5h8.4M600.5 424.3v8.4M604.3 426.5h8.4M608.5 422.3v8.4M604.3 427.5h8.4M608.5 423.3v8.4M605.3 413.5h8.4M609.5 409.3v8.4M596.3 421.5h8.4M600.5 417.3v8.4M608.3 428.5h8.4M612.5 424.3v8.4M597.3 422.5h8.4M601.5 418.3v8.4M603.3 420.5h8.4M607.5 416.3v8.4M598.3 415.5h8.4M602.5 411.3v8.4M606.3 428.5h8.4M610.5 424.3v8.4M598.3 419.5h8.4M602.5 415.3v8.4M612.3 429.5h8.4M616.5 425.3v8.4M599.3 412.5h8.4M603.5 408.3v8.4M614.3 429.5h8.4M618.5 425.3v8.4M605.3 411.5h8.4M609.5 407.3v8.4M614.3 417.5h8.4M618.5 413.3v8.4M614.3 422.5h8.4M618.5 418.3v8.4M612.3 413.5h8.4M616.5 409.3v8.4M611.3 414.5h8.4M615.5 410.3v8.4M624.3 426.5h8.4M628.5 422.3v8.4M630.3 427.5h8.4M634.5 423.3v8.4M616.3 421.5h8.4M620.5 417.3v8.4M624.3 421.5h8.4M628.5 417.3v8.4M564.3 439.5h8.4M568.5 435.3v8.4M564.3 436.5h8.4M568.5 432.3v8.4M556.3 438.5h8.4M560.5 434.3v8.4M565.3 433.5h8.4M569.5 429.3v8.4M571.3 440.5h8.4M575.5 436.3v8.4M565.3 432.5h8.4M569.5 428.3v8.4M565.3 431.5h8.4M569.5 427.3v8.4M558.3 436.5h8.4M562.5 432.3v8.4M557.3 436.5h8.4M561.5 432.3v8.4M566.3 430.5h8.4M570.5 426.3v8.4M568.3 431.5h8.4M572.5 427.3v8.4M570.3 440.5h8.4M574.5 436.3v8.4M586.3 430.5h8.4M590.5 426.3v8.4M586.3 435.5h8.4M590.5 431.3v8.4M595.3 431.5h8.4M599.5 427.3v8.4M593.3 443.5h8.4M597.5 439.3v8.4M590.3 441.5h8.4M594.5 437.3v8.4M579.3 443.5h8.4M583.5 439.3v8.4M585.3 443.5h8.4M589.5 439.3v8.4M594.3 432.5h8.4M598.5 428.3v8.4M591.3 443.5h8.4M595.5 439.3v8.4M577.3 434.5h8.4M581.5 430.3v8.4M591.3 432.5h8.4M595.5 428.3v8.4M593.3 433.5h8.4M597.5 429.3v8.4M592.3 432.5h8.4M596.5 428.3v8.4M586.3 442.5h8.4M590.5 438.3v8.4M580.3 433.5h8.4M584.5 429.3v8.4M586.3 434.5h8.4M590.5 430.3v8.4M596.3 432.5h8.4M600.5 428.3v8.4M599.3 443.5h8.4M603.5 439.3v8.4M609.3 442.5h8.4M613.5 438.3v8.4M599.3 440.5h8.4M603.5 436.3v8.4M598.3 437.5h8.4M602.5 433.3v8.4M608.3 435.5h8.4M612.5 431.3v8.4M613.3 437.5h8.4M617.5 433.3v8.4M607.3 442.5h8.4M611.5 438.3v8.4M598.3 443.5h8.4M602.5 439.3v8.4M608.3 435.5h8.4M612.5 431.3v8.4M631.3 433.5h8.4M635.5 429.3v8.4M635.3 438.5h8.4M639.5 434.3v8.4M415.3 422.5h8.4M419.5 418.3v8.4M404.3 420.5h8.4M408.5 416.3v8.4M439.3 426.5h8.4M443.5 422.3v8.4M408.3 423.5h8.4M412.5 419.3v8.4M433.3 425.5h8.4M437.5 421.3v8.4M434.3 422.5h8.4M438.5 418.3v8.4M412.3 423.5h8.4M416.5 419.3v8.4M402.3 422.5h8.4M406.5 418.3v8.4M431.3 420.5h8.4M435.5 416.3v8.4M449.3 423.5h8.4M453.5 419.3v8.4M401.3 422.5h8.4M405.5 418.3v8.4M394.3 425.5h8.4M398.5 421.3v8.4M393.3 421.5h8.4M397.5 417.3v8.4M415.3 423.5h8.4M419.5 419.3v8.4M407.3 420.5h8.4M411.5 416.3v8.4M405.3 421.5h8.4M409.5 417.3v8.4M432.3 421.5h8.4M436.5 417.3v8.4M452.3 422.5h8.4M456.5 418.3v8.4M408.3 423.5h8.4M412.5 419.3v8.4M433.3 423.5h8.4M437.5 419.3v8.4M447.3 422.5h8.4M451.5 418.3v8.4M409.3 420.5h8.4M413.5 416.3v8.4M393.3 420.5h8.4M397.5 416.3v8.4M415.3 420.5h8.4M419.5 416.3v8.4M433.3 417.5h8.4M437.5 413.3v8.4M439.3 424.5h8.4M443.5 420.3v8.4M408.3 423.5h8.4M412.5 419.3v8.4M426.3 422.5h8.4M430.5 418.3v8.4M418.3 422.5h8.4M422.5 418.3v8.4M442.3 423.5h8.4M446.5 419.3v8.4M393.3 417.5h8.4M397.5 413.3v8.4M401.3 420.5h8.4M405.5 416.3v8.4M405.3 420.5h8.4M409.5 416.3v8.4M433.3 420.5h8.4M437.5 416.3v8.4M444.3 423.5h8.4M448.5 419.3v8.4M411.3 424.5h8.4M415.5 420.3v8.4M396.3 425.5h8.4M400.5 421.3v8.4M438.3 420.5h8.4M442.5 416.3v8.4M393.3 424.5h8.4M397.5 420.3v8.4M422.3 419.5h8.4M426.5 415.3v8.4M439.3 421.5h8.4M443.5 417.3v8.4M399.3 422.5h8.4M403.5 418.3v8.4M407.3 424.5h8.4M411.5 420.3v8.4M440.3 422.5h8.4M444.5 418.3v8.4M436.3 424.5h8.4M440.5 420.3v8.4M409.3 419.5h8.4M413.5 415.3v8.4M427.3 419.5h8.4M431.5 415.3v8.4M425.3 423.5h8.4M429.5 419.3v8.4M409.3 419.5h8.4M413.5 415.3v8.4M406.3 418.5h8.4M410.5 414.3v8.4M544.3 424.5h8.4M548.5 420.3v8.4M479.3 421.5h8.4M483.5 417.3v8.4M530.3 426.5h8.4M534.5 422.3v8.4M488.3 419.5h8.4M492.5 415.3v8.4M544.3 420.5h8.4M548.5 416.3v8.4M546.3 423.5h8.4M550.5 419.3v8.4M519.3 419.5h8.4M523.5 415.3v8.4M553.3 416.5h8.4M557.5 412.3v8.4M502.3 424.5h8.4M506.5 420.3v8.4M541.3 417.5h8.4M545.5 413.3v8.4M499.3 420.5h8.4M503.5 416.3v8.4M486.3 417.5h8.4M490.5 413.3v8.4M477.3 420.5h8.4M481.5 416.3v8.4M547.3 420.5h8.4M551.5 416.3v8.4M470.3 423.5h8.4M474.5 419.3v8.4M548.3 421.5h8.4M552.5 417.3v8.4M490.3 422.5h8.4M494.5 418.3v8.4M460.3 422.5h8.4M464.5 418.3v8.4M525.3 417.5h8.4M529.5 413.3v8.4M529.3 417.5h8.4M533.5 413.3v8.4M462.3 418.5h8.4M466.5 414.3v8.4M537.3 419.5h8.4M541.5 415.3v8.4M537.3 422.5h8.4M541.5 418.3v8.4M542.3 420.5h8.4M546.5 416.3v8.4M547.3 423.5h8.4M551.5 419.3v8.4M476.3 420.5h8.4M480.5 416.3v8.4M467.3 427.5h8.4M471.5 423.3v8.4M537.3 422.5h8.4M541.5 418.3v8.4M519.3 423.5h8.4M523.5 419.3v8.4M484.3 417.5h8.4M488.5 413.3v8.4M465.3 426.5h8.4M469.5 422.3v8.4M476.3 424.5h8.4M480.5 420.3v8.4M487.3 420.5h8.4M491.5 416.3v8.4M481.3 421.5h8.4M485.5 417.3v8.4M484.3 420.5h8.4M488.5 416.3v8.4M488.3 418.5h8.4M492.5 414.3v8.4M552.3 414.5h8.4M556.5 410.3v8.4M517.3 421.5h8.4M521.5 417.3v8.4M459.3 418.5h8.4M463.5 414.3v8.4M533.3 423.5h8.4M537.5 419.3v8.4M490.3 420.5h8.4M494.5 416.3v8.4M477.3 417.5h8.4M481.5 413.3v8.4M542.3 426.5h8.4M546.5 422.3v8.4M473.3 424.5h8.4M477.5 420.3v8.4M456.3 423.5h8.4M460.5 419.3v8.4M553.3 427.5h8.4M557.5 423.3v8.4M456.3 417.5h8.4M460.5 413.3v8.4M535.3 421.5h8.4M539.5 417.3v8.4M474.3 418.5h8.4M478.5 414.3v8.4M539.3 421.5h8.4M543.5 417.3v8.4M482.3 424.5h8.4M486.5 420.3v8.4M477.3 420.5h8.4M481.5 416.3v8.4M525.3 419.5h8.4M529.5 415.3v8.4M519.3 421.5h8.4M523.5 417.3v8.4M464.3 422.5h8.4M468.5 418.3v8.4M534.3 416.5h8.4M538.5 412.3v8.4M518.3 419.5h8.4M522.5 415.3v8.4M495.3 424.5h8.4M499.5 420.3v8.4M545.3 427.5h8.4M549.5 423.3v8.4M458.3 425.5h8.4M462.5 421.3v8.4M476.3 420.5h8.4M480.5 416.3v8.4M506.3 428.5h8.4M510.5 424.3v8.4M493.3 423.5h8.4M497.5 419.3v8.4M502.3 419.5h8.4M506.5 415.3v8.4M509.3 421.5h8.4M513.5 417.3v8.4M520.3 415.5h8.4M524.5 411.3v8.4M490.3 420.5h8.4M494.5 416.3v8.4M540.3 423.5h8.4M544.5 419.3v8.4M522.3 421.5h8.4M526.5 417.3v8.4M499.3 419.5h8.4M503.5 415.3v8.4M533.3 419.5h8.4M537.5 415.3v8.4M502.3 420.5h8.4M506.5 416.3v8.4M544.3 421.5h8.4M548.5 417.3v8.4M486.3 423.5h8.4M490.5 419.3v8.4M526.3 422.5h8.4M530.5 418.3v8.4M471.3 419.5h8.4M475.5 415.3v8.4M480.3 419.5h8.4M484.5 415.3v8.4M472.3 425.5h8.4M476.5 421.3v8.4M488.3 424.5h8.4M492.5 420.3v8.4M528.3 430.5h8.4M532.5 426.3v8.4M466.3 423.5h8.4M470.5 419.3v8.4M494.3 421.5h8.4M498.5 417.3v8.4M554.3 423.5h8.4M558.5 419.3v8.4M499.3 416.5h8.4M503.5 412.3v8.4M475.3 420.5h8.4M479.5 416.3v8.4M476.3 420.5h8.4M480.5 416.3v8.4M494.3 424.5h8.4M498.5 420.3v8.4M535.3 422.5h8.4M539.5 418.3v8.4M525.3 416.5h8.4M529.5 412.3v8.4M502.3 421.5h8.4M506.5 417.3v8.4M470.3 418.5h8.4M474.5 414.3v8.4M530.3 419.5h8.4M534.5 415.3v8.4M546.3 417.5h8.4M550.5 413.3v8.4M530.3 423.5h8.4M534.5 419.3v8.4M498.3 422.5h8.4M502.5 418.3v8.4M544.3 426.5h8.4M548.5 422.3v8.4M533.3 419.5h8.4M537.5 415.3v8.4M523.3 415.5h8.4M527.5 411.3v8.4M520.3 418.5h8.4M524.5 414.3v8.4M518.3 422.5h8.4M522.5 418.3v8.4M465.3 416.5h8.4M469.5 412.3v8.4M527.3 424.5h8.4M531.5 420.3v8.4M518.3 421.5h8.4M522.5 417.3v8.4M501.3 425.5h8.4M505.5 421.3v8.4M518.3 417.5h8.4M522.5 413.3v8.4M549.3 424.5h8.4M553.5 420.3v8.4M474.3 418.5h8.4M478.5 414.3v8.4M494.3 416.5h8.4M498.5 412.3v8.4M504.3 422.5h8.4M508.5 418.3v8.4M510.3 421.5h8.4M514.5 417.3v8.4M472.3 423.5h8.4M476.5 419.3v8.4M507.3 413.5h8.4M511.5 409.3v8.4M466.3 417.5h8.4M470.5 413.3v8.4M527.3 419.5h8.4M531.5 415.3v8.4M507.3 417.5h8.4M511.5 413.3v8.4M508.3 416.5h8.4M512.5 412.3v8.4M497.3 423.5h8.4M501.5 419.3v8.4M524.3 420.5h8.4M528.5 416.3v8.4M495.3 421.5h8.4M499.5 417.3v8.4M554.3 419.5h8.4M558.5 415.3v8.4M491.3 424.5h8.4M495.5 420.3v8.4M495.3 422.5h8.4M499.5 418.3v8.4M457.3 418.5h8.4M461.5 414.3v8.4M525.3 423.5h8.4M529.5 419.3v8.4M491.3 421.5h8.4M495.5 417.3v8.4M530.3 423.5h8.4M534.5 419.3v8.4M549.3 419.5h8.4M553.5 415.3v8.4M536.3 421.5h8.4M540.5 417.3v8.4M495.3 421.5h8.4M499.5 417.3v8.4M533.3 423.5h8.4M537.5 419.3v8.4M536.3 418.5h8.4M540.5 414.3v8.4M512.3 418.5h8.4M516.5 414.3v8.4M478.3 424.5h8.4M482.5 420.3v8.4M519.3 420.5h8.4M523.5 416.3v8.4M537.3 423.5h8.4M541.5 419.3v8.4M485.3 418.5h8.4M489.5 414.3v8.4M510.3 426.5h8.4M514.5 422.3v8.4M491.3 426.5h8.4M495.5 422.3v8.4M541.3 421.5h8.4M545.5 417.3v8.4M481.3 424.5h8.4M485.5 420.3v8.4M498.3 421.5h8.4M502.5 417.3v8.4M528.3 421.5h8.4M532.5 417.3v8.4M484.3 421.5h8.4M488.5 417.3v8.4M503.3 424.5h8.4M507.5 420.3v8.4M498.3 418.5h8.4M502.5 414.3v8.4M492.3 417.5h8.4M496.5 413.3v8.4M548.3 422.5h8.4M552.5 418.3v8.4M538.3 420.5h8.4M542.5 416.3v8.4M546.3 421.5h8.4M550.5 417.3v8.4M539.3 419.5h8.4M543.5 415.3v8.4M519.3 422.5h8.4M523.5 418.3v8.4M551.3 421.5h8.4M555.5 417.3v8.4M521.3 421.5h8.4M525.5 417.3v8.4M470.3 423.5h8.4M474.5 419.3v8.4M479.3 422.5h8.4M483.5 418.3v8.4M471.3 418.5h8.4M475.5 414.3v8.4M546.3 422.5h8.4M550.5 418.3v8.4M545.3 419.5h8.4M549.5 415.3v8.4M516.3 422.5h8.4M520.5 418.3v8.4M545.3 416.5h8.4M549.5 412.3v8.4M534.3 422.5h8.4M538.5 418.3v8.4M525.3 419.5h8.4M529.5 415.3v8.4M509.3 421.5h8.4M513.5 417.3v8.4M544.3 417.5h8.4M548.5 413.3v8.4M511.3 421.5h8.4M515.5 417.3v8.4M469.3 423.5h8.4M473.5 419.3v8.4M505.3 425.5h8.4M509.5 421.3v8.4M470.3 422.5h8.4M474.5 418.3v8.4M505.3 417.5h8.4M509.5 413.3v8.4M542.3 421.5h8.4M546.5 417.3v8.4M456.3 423.5h8.4M460.5 419.3v8.4M512.3 418.5h8.4M516.5 414.3v8.4M522.3 423.5h8.4M526.5 419.3v8.4M497.3 418.5h8.4M501.5 414.3v8.4M552.3 425.5h8.4M556.5 421.3v8.4M519.3 423.5h8.4M523.5 419.3v8.4M458.3 417.5h8.4M462.5 413.3v8.4M549.3 418.5h8.4M553.5 414.3v8.4M489.3 425.5h8.4M493.5 421.3v8.4M504.3 421.5h8.4M508.5 417.3v8.4M545.3 426.5h8.4M549.5 422.3v8.4M518.3 422.5h8.4M522.5 418.3v8.4M489.3 423.5h8.4M493.5 419.3v8.4M503.3 419.5h8.4M507.5 415.3v8.4M508.3 421.5h8.4M512.5 417.3v8.4M499.3 419.5h8.4M503.5 415.3v8.4M498.3 415.5h8.4M502.5 411.3v8.4M485.3 419.5h8.4M489.5 415.3v8.4M538.3 418.5h8.4M542.5 414.3v8.4M483.3 423.5h8.4M487.5 419.3v8.4M506.3 412.5h8.4M510.5 408.3v8.4M521.3 410.5h8.4M525.5 406.3v8.4M489.3 404.5h8.4M493.5 400.3v8.4M485.3 407.5h8.4M489.5 403.3v8.4M519.3 410.5h8.4M523.5 406.3v8.4M460.3 409.5h8.4M464.5 405.3v8.4M544.3 407.5h8.4M548.5 403.3v8.4M460.3 403.5h8.4M464.5 399.3v8.4M456.3 402.5h8.4M460.5 398.3v8.4M548.3 407.5h8.4M552.5 403.3v8.4M521.3 410.5h8.4M525.5 406.3v8.4M546.3 407.5h8.4M550.5 403.3v8.4M517.3 408.5h8.4M521.5 404.3v8.4M525.3 407.5h8.4M529.5 403.3v8.4M524.3 402.5h8.4M528.5 398.3v8.4M522.3 405.5h8.4M526.5 401.3v8.4M532.3 401.5h8.4M536.5 397.3v8.4M474.3 400.5h8.4M478.5 396.3v8.4M533.3 411.5h8.4M537.5 407.3v8.4M521.3 404.5h8.4M525.5 400.3v8.4M538.3 410.5h8.4M542.5 406.3v8.4M512.3 403.5h8.4M516.5 399.3v8.4M486.3 405.5h8.4M490.5 401.3v8.4M487.3 405.5h8.4M491.5 401.3v8.4M520.3 412.5h8.4M524.5 408.3v8.4M461.3 407.5h8.4M465.5 403.3v8.4M459.3 401.5h8.4M463.5 397.3v8.4M537.3 407.5h8.4M541.5 403.3v8.4M547.3 405.5h8.4M551.5 401.3v8.4M457.3 405.5h8.4M461.5 401.3v8.4M515.3 412.5h8.4M519.5 408.3v8.4M554.3 406.5h8.4M558.5 402.3v8.4M580.3 430.5h8.4M584.5 426.3v8.4M568.3 429.5h8.4M572.5 425.3v8.4M565.3 425.5h8.4M569.5 421.3v8.4M597.3 425.5h8.4M601.5 421.3v8.4M563.3 427.5h8.4M567.5 423.3v8.4M608.3 424.5h8.4M612.5 420.3v8.4M563.3 432.5h8.4M567.5 428.3v8.4M570.3 425.5h8.4M574.5 421.3v8.4M600.3 425.5h8.4M604.5 421.3v8.4M602.3 426.5h8.4M606.5 422.3v8.4M598.3 429.5h8.4M602.5 425.3v8.4M561.3 418.5h8.4M565.5 414.3v8.4M593.3 423.5h8.4M597.5 419.3v8.4M611.3 419.5h8.4M615.5 415.3v8.4M571.3 432.5h8.4M575.5 428.3v8.4M556.3 423.5h8.4M560.5 419.3v8.4M556.3 419.5h8.4M560.5 415.3v8.4M560.3 417.5h8.4M564.5 413.3v8.4M574.3 424.5h8.4M578.5 420.3v8.4M607.3 422.5h8.4M611.5 418.3v8.4M585.3 429.5h8.4M589.5 425.3v8.4M590.3 426.5h8.4M594.5 422.3v8.4M582.3 423.5h8.4M586.5 419.3v8.4M603.3 422.5h8.4M607.5 418.3v8.4M577.3 420.5h8.4M581.5 416.3v8.4M581.3 419.5h8.4M585.5 415.3v8.4M579.3 427.5h8.4M583.5 423.3v8.4M603.3 413.5h8.4M607.5 409.3v8.4M590.3 424.5h8.4M594.5 420.3v8.4M614.3 426.5h8.4M618.5 422.3v8.4M564.3 345.5h8.4M568.5 341.3v8.4M549.3 340.5h8.4M553.5 336.3v8.4M575.3 345.5h8.4M579.5 341.3v8.4M560.3 332.5h8.4M564.5 328.3v8.4M553.3 347.5h8.4M557.5 343.3v8.4M551.3 342.5h8.4M555.5 338.3v8.4M560.3 347.5h8.4M564.5 343.3v8.4M568.3 332.5h8.4M572.5 328.3v8.4M536.3 331.5h8.4M540.5 327.3v8.4M552.3 339.5h8.4M556.5 335.3v8.4M568.3 347.5h8.4M572.5 343.3v8.4M537.3 345.5h8.4M541.5 341.3v8.4M568.3 346.5h8.4M572.5 342.3v8.4M558.3 331.5h8.4M562.5 327.3v8.4M570.3 345.5h8.4M574.5 341.3v8.4M563.3 347.5h8.4M567.5 343.3v8.4M549.3 327.5h8.4M553.5 323.3v8.4M558.3 344.5h8.4M562.5 340.3v8.4M544.3 343.5h8.4M548.5 339.3v8.4M573.3 330.5h8.4M577.5 326.3v8.4M560.3 341.5h8.4M564.5 337.3v8.4M554.3 330.5h8.4M558.5 326.3v8.4M546.3 343.5h8.4M550.5 339.3v8.4M567.3 336.5h8.4M571.5 332.3v8.4M539.3 345.5h8.4M543.5 341.3v8.4M566.3 330.5h8.4M570.5 326.3v8.4M530.3 348.5h8.4M534.5 344.3v8.4M538.3 342.5h8.4M542.5 338.3v8.4M527.3 343.5h8.4M531.5 339.3v8.4M520.3 337.5h8.4M524.5 333.3v8.4M520.3 345.5h8.4M524.5 341.3v8.4M525.3 343.5h8.4M529.5 339.3v8.4M526.3 342.5h8.4M530.5 338.3v8.4M522.3 317.5h8.4M526.5 313.3v8.4M524.3 320.5h8.4M528.5 316.3v8.4M346.3 268.5h8.4M350.5 264.3v8.4M308.3 392.5h8.4M312.5 388.3v8.4M308.3 392.5h8.4M312.5 388.3v8.4M259.3 406.5h8.4M263.5 402.3v8.4M269.3 410.5h8.4M273.5 406.3v8.4M282.3 408.5h8.4M286.5 404.3v8.4M285.3 407.5h8.4M289.5 403.3v8.4M287.3 410.5h8.4M291.5 406.3v8.4M292.3 406.5h8.4M296.5 402.3v8.4M306.3 405.5h8.4M310.5 401.3v8.4M326.3 405.5h8.4M330.5 401.3v8.4M278.3 421.5h8.4M282.5 417.3v8.4M277.3 422.5h8.4M281.5 418.3v8.4M290.3 415.5h8.4M294.5 411.3v8.4M293.3 416.5h8.4M297.5 412.3v8.4M296.3 415.5h8.4M300.5 411.3v8.4M302.3 415.5h8.4M306.5 411.3v8.4M305.3 414.5h8.4M309.5 410.3v8.4M312.3 415.5h8.4M316.5 411.3v8.4M311.3 414.5h8.4M315.5 410.3v8.4M322.3 417.5h8.4M326.5 413.3v8.4M338.3 412.5h8.4M342.5 408.3v8.4M342.3 413.5h8.4M346.5 409.3v8.4M351.3 412.5h8.4M355.5 408.3v8.4M355.3 410.5h8.4M359.5 406.3v8.4M360.3 413.5h8.4M364.5 409.3v8.4M364.3 413.5h8.4M368.5 409.3v8.4M369.3 414.5h8.4M373.5 410.3v8.4M383.3 411.5h8.4M387.5 407.3v8.4M381.3 413.5h8.4M385.5 409.3v8.4M361.3 426.5h8.4M365.5 422.3v8.4M367.3 423.5h8.4M371.5 419.3v8.4M360.3 419.5h8.4M364.5 415.3v8.4M361.3 418.5h8.4M365.5 414.3v8.4M374.3 420.5h8.4M378.5 416.3v8.4M357.3 424.5h8.4M361.5 420.3v8.4M357.3 426.5h8.4M361.5 422.3v8.4M371.3 421.5h8.4M375.5 417.3v8.4M373.3 421.5h8.4M377.5 417.3v8.4M369.3 425.5h8.4M373.5 421.3v8.4M384.3 422.5h8.4M388.5 418.3v8.4M384.3 417.5h8.4M388.5 413.3v8.4M364.3 423.5h8.4M368.5 419.3v8.4M362.3 422.5h8.4M366.5 418.3v8.4M359.3 424.5h8.4M363.5 420.3v8.4M382.3 422.5h8.4M386.5 418.3v8.4M370.3 426.5h8.4M374.5 422.3v8.4M358.3 420.5h8.4M362.5 416.3v8.4M374.3 420.5h8.4M378.5 416.3v8.4M384.3 422.5h8.4M388.5 418.3v8.4M364.3 418.5h8.4M368.5 414.3v8.4M384.3 420.5h8.4M388.5 416.3v8.4M376.3 419.5h8.4M380.5 415.3v8.4M361.3 423.5h8.4M365.5 419.3v8.4M385.3 423.5h8.4M389.5 419.3v8.4M358.3 421.5h8.4M362.5 417.3v8.4M364.3 418.5h8.4M368.5 414.3v8.4M383.3 425.5h8.4M387.5 421.3v8.4M381.3 425.5h8.4M385.5 421.3v8.4M377.3 422.5h8.4M381.5 418.3v8.4M375.3 422.5h8.4M379.5 418.3v8.4M361.3 421.5h8.4M365.5 417.3v8.4M378.3 424.5h8.4M382.5 420.3v8.4M365.3 420.5h8.4M369.5 416.3v8.4M329.3 419.5h8.4M333.5 415.3v8.4M295.3 417.5h8.4M299.5 413.3v8.4M305.3 416.5h8.4M309.5 412.3v8.4M321.3 416.5h8.4M325.5 412.3v8.4M304.3 416.5h8.4M308.5 412.3v8.4M335.3 416.5h8.4M339.5 412.3v8.4M338.3 416.5h8.4M342.5 412.3v8.4M290.3 419.5h8.4M294.5 415.3v8.4M303.3 419.5h8.4M307.5 415.3v8.4M348.3 419.5h8.4M352.5 415.3v8.4M280.3 409.5h8.4M284.5 405.3v8.4M283.3 411.5h8.4M287.5 407.3v8.4M288.3 413.5h8.4M292.5 409.3v8.4M291.3 411.5h8.4M295.5 407.3v8.4M294.3 418.5h8.4M298.5 414.3v8.4M286.3 416.5h8.4M290.5 412.3v8.4M280.3 418.5h8.4M284.5 414.3v8.4M279.3 424.5h8.4M283.5 420.3v8.4M281.3 419.5h8.4M285.5 415.3v8.4M274.3 410.5h8.4M278.5 406.3v8.4M277.3 411.5h8.4M281.5 407.3v8.4M279.3 414.5h8.4M283.5 410.3v8.4M329.3 416.5h8.4M333.5 412.3v8.4M287.3 424.5h8.4M291.5 420.3v8.4" stroke="#00bfbf" stroke-width="0.75" fill="none"/>
<path d="M346.3 264.3l8.4 8.4M346.3 272.7l8.4 -8.4M308.3 388.3l8.4 8.4M308.3 396.7l8.4 -8.4M308.3 388.3l8.4 8.4M308.3 396.7l8.4 -8.4M259.3 402.3l8.4 8.4M259.3 410.7l8.4 -8.4M269.3 406.3l8.4 8.4M269.3 414.7l8.4 -8.4M282.3 404.3l8.4 8.4M282.3 412.7l8.4 -8.4M285.3 403.3l8.4 8.4M285.3 411.7l8.4 -8.4M287.3 406.3l8.4 8.4M287.3 414.7l8.4 -8.4M292.3 402.3l8.4 8.4M292.3 410.7l8.4 -8.4M306.3 401.3l8.4 8.4M306.3 409.7l8.4 -8.4M326.3 401.3l8.4 8.4M326.3 409.7l8.4 -8.4M278.3 417.3l8.4 8.4M278.3 425.7l8.4 -8.4M277.3 418.3l8.4 8.4M277.3 426.7l8.4 -8.4M290.3 411.3l8.4 8.4M290.3 419.7l8.4 -8.4M293.3 412.3l8.4 8.4M293.3 420.7l8.4 -8.4M296.3 411.3l8.4 8.4M296.3 419.7l8.4 -8.4M302.3 411.3l8.4 8.4M302.3 419.7l8.4 -8.4M305.3 410.3l8.4 8.4M305.3 418.7l8.4 -8.4M312.3 411.3l8.4 8.4M312.3 419.7l8.4 -8.4M311.3 410.3l8.4 8.4M311.3 418.7l8.4 -8.4M322.3 413.3l8.4 8.4M322.3 421.7l8.4 -8.4M338.3 408.3l8.4 8.4M338.3 416.7l8.4 -8.4M342.3 409.3l8.4 8.4M342.3 417.7l8.4 -8.4M351.3 408.3l8.4 8.4M351.3 416.7l8.4 -8.4M355.3 406.3l8.4 8.4M355.3 414.7l8.4 -8.4M360.3 409.3l8.4 8.4M360.3 417.7l8.4 -8.4M364.3 409.3l8.4 8.4M364.3 417.7l8.4 -8.4M369.3 410.3l8.4 8.4M369.3 418.7l8.4 -8.4M383.3 407.3l8.4 8.4M383.3 415.7l8.4 -8.4M381.3 409.3l8.4 8.4M381.3 417.7l8.4 -8.4M361.3 422.3l8.4 8.4M361.3 430.7l8.4 -8.4M367.3 419.3l8.4 8.4M367.3 427.7l8.4 -8.4M360.3 415.3l8.4 8.4M360.3 423.7l8.4 -8.4M361.3 414.3l8.4 8.4M361.3 422.7l8.4 -8.4M374.3 416.3l8.4 8.4M374.3 424.7l8.4 -8.4M357.3 420.3l8.4 8.4M357.3 428.7l8.4 -8.4M357.3 422.3l8.4 8.4M357.3 430.7l8.4 -8.4M371.3 417.3l8.4 8.4M371.3 425.7l8.4 -8.4M373.3 417.3l8.4 8.4M373.3 425.7l8.4 -8.4M369.3 421.3l8.4 8.4M369.3 429.7l8.4 -8.4M384.3 418.3l8.4 8.4M384.3 426.7l8.4 -8.4M384.3 413.3l8.4 8.4M384.3 421.7l8.4 -8.4M364.3 419.3l8.4 8.4M364.3 427.7l8.4 -8.4M362.3 418.3l8.4 8.4M362.3 426.7l8.4 -8.4M359.3 420.3l8.4 8.4M359.3 428.7l8.4 -8.4M382.3 418.3l8.4 8.4M382.3 426.7l8.4 -8.4M370.3 422.3l8.4 8.4M370.3 430.7l8.4 -8.4M358.3 416.3l8.4 8.4M358.3 424.7l8.4 -8.4M374.3 416.3l8.4 8.4M374.3 424.7l8.4 -8.4M384.3 418.3l8.4 8.4M384.3 426.7l8.4 -8.4M364.3 414.3l8.4 8.4M364.3 422.7l8.4 -8.4M384.3 416.3l8.4 8.4M384.3 424.7l8.4 -8.4M376.3 415.3l8.4 8.4M376.3 423.7l8.4 -8.4M361.3 419.3l8.4 8.4M361.3 427.7l8.4 -8.4M385.3 419.3l8.4 8.4M385.3 427.7l8.4 -8.4M358.3 417.3l8.4 8.4M358.3 425.7l8.4 -8.4M364.3 414.3l8.4 8.4M364.3 422.7l8.4 -8.4M383.3 421.3l8.4 8.4M383.3 429.7l8.4 -8.4M381.3 421.3l8.4 8.4M381.3 429.7l8.4 -8.4M377.3 418.3l8.4 8.4M377.3 426.7l8.4 -8.4M375.3 418.3l8.4 8.4M375.3 426.7l8.4 -8.4M361.3 417.3l8.4 8.4M361.3 425.7l8.4 -8.4M378.3 420.3l8.4 8.4M378.3 428.7l8.4 -8.4M365.3 416.3l8.4 8.4M365.3 424.7l8.4 -8.4M329.3 415.3l8.4 8.4M329.3 423.7l8.4 -8.4M295.3 413.3l8.4 8.4M295.3 421.7l8.4 -8.4M305.3 412.3l8.4 8.4M305.3 420.7l8.4 -8.4M321.3 412.3l8.4 8.4M321.3 420.7l8.4 -8.4M304.3 412.3l8.4 8.4M304.3 420.7l8.4 -8.4M335.3 412.3l8.4 8.4M335.3 420.7l8.4 -8.4M338.3 412.3l8.4 8.4M338.3 420.7l8.4 -8.4M290.3 415.3l8.4 8.4M290.3 423.7l8.4 -8.4M303.3 415.3l8.4 8.4M303.3 423.7l8.4 -8.4M348.3 415.3l8.4 8.4M348.3 423.7l8.4 -8.4M280.3 405.3l8.4 8.4M280.3 413.7l8.4 -8.4M283.3 407.3l8.4 8.4M283.3 415.7l8.4 -8.4M288.3 409.3l8.4 8.4M288.3 417.7l8.4 -8.4M291.3 407.3l8.4 8.4M291.3 415.7l8.4 -8.4M294.3 414.3l8.4 8.4M294.3 422.7l8.4 -8.4M286.3 412.3l8.4 8.4M286.3 420.7l8.4 -8.4M280.3 414.3l8.4 8.4M280.3 422.7l8.4 -8.4M279.3 420.3l8.4 8.4M279.3 428.7l8.4 -8.4M281.3 415.3l8.4 8.4M281.3 423.7l8.4 -8.4" stroke="#0000ff" stroke-width="1" fill="none"/>
<circle cx="289.0" cy="422.6" r="4.5" fill="#000"/>
<circle cx="302.5" cy="423.0" r="4.5" fill="#000"/>
<circle cx="304.5" cy="423.0" r="4.5" fill="#000"/>
<circle cx="307.0" cy="423.0" r="4.5" fill="#000"/>
<circle cx="310.0" cy="423.0" r="4.5" fill="#000"/>
<circle cx="313.0" cy="423.0" r="4.5" fill="#000"/>
<circle cx="316.0" cy="424.6" r="4.5" fill="#000"/>
<circle cx="318.0" cy="424.6" r="4.5" fill="#000"/>
<circle cx="320.5" cy="424.6" r="4.5" fill="#000"/>
<circle cx="324.5" cy="424.3" r="4.5" fill="#000"/>
<circle cx="327.0" cy="424.3" r="4.5" fill="#000"/>
<circle cx="329.5" cy="424.3" r="4.5" fill="#000"/>
<circle cx="331.5" cy="424.3" r="4.5" fill="#000"/>
<circle cx="337.5" cy="423.8" r="4.5" fill="#000"/>
<circle cx="339.5" cy="423.8" r="4.5" fill="#000"/>
<circle cx="342.0" cy="424.6" r="4.5" fill="#000"/>
<circle cx="344.5" cy="424.6" r="4.5" fill="#000"/>
<circle cx="346.5" cy="423.8" r="4.5" fill="#000"/>
<circle cx="351.5" cy="423.0" r="4.5" fill="#000"/>
<circle cx="353.5" cy="423.0" r="4.5" fill="#000"/>
<circle cx="356.0" cy="423.0" r="4.5" fill="#000"/>
<circle cx="357.5" cy="423.0" r="4.5" fill="#000"/>
<path d="M100.4 423.4H720.4" stroke="#0000ff" stroke-width="1.4" stroke-dasharray="8.33 8.33" fill="none"/>
</g>
<rect x="100.4" y="60.4" width="620.0" height="480.0" fill="none" stroke="#000" stroke-width="1.39"/>
<path d="M100.50 540.4v-5.96M183.50 540.4v-5.96M265.50 540.4v-5.96M348.50 540.4v-5.96M431.50 540.4v-5.96M513.50 540.4v-5.96M596.50 540.4v-5.96M679.50 540.4v-5.96M136.50 60.4v5.96M219.50 60.4v5.96M301.50 60.4v5.96M384.50 60.4v5.96M467.50 60.4v5.96M549.50 60.4v5.96M632.50 60.4v5.96M715.50 60.4v5.96M100.4 540.50h5.96M720.4 540.50h-5.96M100.4 420.50h5.96M720.4 420.50h-5.96M100.4 300.50h5.96M720.4 300.50h-5.96M100.4 180.50h5.96M720.4 180.50h-5.96M100.4 60.50h5.96M720.4 60.50h-5.96" stroke="#000" stroke-width="0.8" fill="none"/>
<g font-size="16.67" fill="#000" text-anchor="middle" letter-spacing="-0.9">
<text x="99.5" y="559.3">−20</text>
<text x="182.2" y="559.3">−18</text>
<text x="264.8" y="559.3">−16</text>
<text x="347.5" y="559.3">−14</text>
<text x="430.2" y="559.3">−12</text>
<text x="512.8" y="559.3">−10</text>
<text x="595.5" y="559.3">−8</text>
<text x="678.2" y="559.3">−6</text>
<text x="135.9" y="49.8">14</text>
<text x="218.6" y="49.8">16</text>
<text x="301.2" y="49.8">18</text>
<text x="383.9" y="49.8">20</text>
<text x="466.6" y="49.8">22</text>
<text x="549.2" y="49.8">24</text>
<text x="631.9" y="49.8">26</text>
<text x="714.6" y="49.8">28</text>
</g>
<g font-size="16.67" fill="#000" text-anchor="end" letter-spacing="-0.9">
<text x="95.2" y="545.0">0</text>
<text x="95.2" y="425.0">5</text>
<text x="95.2" y="305.0">10</text>
<text x="95.2" y="185.0">15</text>
<text x="95.2" y="65.0">20</text>
</g>
<text x="410.5" y="28" font-size="20" text-anchor="middle">FWHM vs magnitudes</text>
<text x="410.8" y="583.3" font-size="16.67" text-anchor="middle">magnitude (bottom:isnt / top:calib)</text>
<text transform="translate(63.6,300) rotate(-90)" font-size="16.67" text-anchor="middle">FWHM (pix)</text>
<rect x="398.6" y="70.4" width="311.8" height="122" fill="#fff" stroke="#000" stroke-width="1.39"/>
<path d="M408.3 86.5h8.4M412.5 82.3v8.4M436.3 86.5h8.4M440.5 82.3v8.4" stroke="#00bfbf" stroke-width="0.75" fill="none"/>
<path d="M408.3 111.3l8.4 8.4M408.3 119.7l8.4 -8.4M436.3 111.3l8.4 8.4M436.3 119.7l8.4 -8.4" stroke="#0000ff" stroke-width="1" fill="none"/>
<circle cx="412.4" cy="144.5" r="4.5"/><circle cx="440.4" cy="144.5" r="4.5"/>
<path d="M412.4 173.4H440.4" stroke="#0000ff" stroke-width="1.4" stroke-dasharray="8.33 8.33" fill="none"/>
<g font-size="20" fill="#000">
<text x="462.5" y="93.5">all sample</text>
<text x="462.5" y="122.2">sample for rough FWHM</text>
<text x="462.5" y="151.0">coarse PSF-like sample</text>
<text x="462.5" y="179.8">tentative FWHM</text>
</g>
</svg></body></html>
